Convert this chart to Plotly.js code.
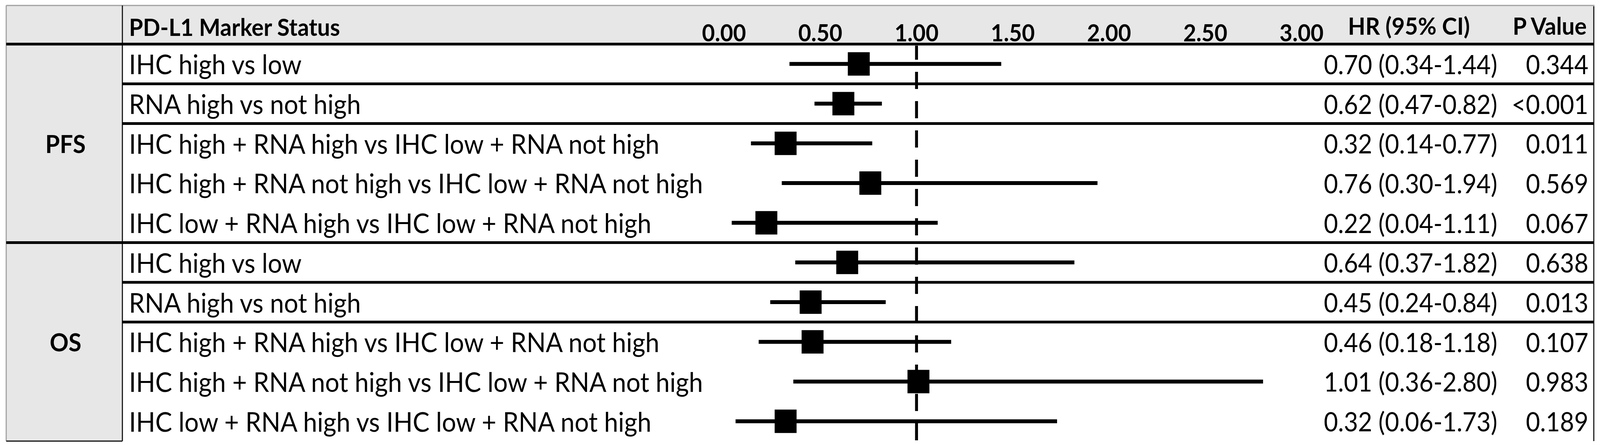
<!DOCTYPE html>
<html>
<head>
<meta charset="utf-8">
<script src="https://cdn.plot.ly/plotly-3.0.1.min.js"></script>
<style>
html,body{margin:0;padding:0;background:#fff;overflow:hidden;}
#chart{width:4380px;height:1140px;transform-origin:0 0;}
</style>
</head>
<body>
<div id="chart"></div>
<script>
// ---- data ----
const groups = ["PFS", "OS"];
const groupOf = ["PFS","PFS","PFS","PFS","PFS","OS","OS","OS","OS","OS"];
const comparisons = [
  "IHC high vs low",
  "RNA high vs not high",
  "IHC high + RNA high vs IHC low + RNA not high",
  "IHC high + RNA not high vs IHC low + RNA not high",
  "IHC low + RNA high vs IHC low + RNA not high",
  "IHC high vs low",
  "RNA high vs not high",
  "IHC high + RNA high vs IHC low + RNA not high",
  "IHC high + RNA not high vs IHC low + RNA not high",
  "IHC low + RNA high vs IHC low + RNA not high"
];
const hr      = [0.70, 0.62, 0.32, 0.76, 0.22, 0.64, 0.45, 0.46, 1.01, 0.32];
const ciLow   = [0.34, 0.47, 0.14, 0.30, 0.04, 0.37, 0.24, 0.18, 0.36, 0.06];
const ciHigh  = [1.44, 0.82, 0.77, 1.94, 1.11, 1.82, 0.84, 1.18, 2.80, 1.73];
const pValues = ["0.344", "<0.001", "0.011", "0.569", "0.067", "0.638", "0.013", "0.107", "0.983", "0.189"];
const tickVals = [0, 0.5, 1, 1.5, 2, 2.5, 3];
const tickText = ["0.00", "0.50", "1.00", "1.50", "2.00", "2.50", "3.00"];
const headerLabel = "PD-L1 Marker Status";
const hrHeader = "HR (95% CI)";
const pHeader = "P Value";
const refValue = 1;

// ---- layout helpers (pixel geometry of the table) ----
const W = 4380, H = 1140;
const X = px => px / W;
const Y = px => 1 - px / H;
const FONT = "Lato, 'Open Sans', sans-serif";
const LABEL = 69, VALUE = 67, HEAD = 62;
const tableL = 17, tableR = 4363, tableT = 14, headB = 113, tableB = 1130, groupR = 335;
const pxZero = 1982, pxPerUnit = 527, domL = 1960, domR = 3600;

const idx = comparisons.map((_, i) => i);

const trace = {
  type: "scatter",
  mode: "markers",
  x: hr,
  y: idx,
  marker: {symbol: "square", size: 60, color: "#000"},
  error_x: {
    type: "data", symmetric: false,
    array: hr.map((v, i) => ciHigh[i] - v),
    arrayminus: hr.map((v, i) => v - ciLow[i]),
    color: "#000", thickness: 10, width: 0
  },
  hoverinfo: "skip",
  showlegend: false,
  cliponaxis: false
};

const shapes = [];
shapes.push({type:"rect", xref:"paper", yref:"paper", x0:X(tableL), x1:X(tableR), y0:Y(headB), y1:Y(tableT), fillcolor:"#e7e7e7", line:{width:0}, layer:"below"});
shapes.push({type:"rect", xref:"paper", yref:"paper", x0:X(tableL), x1:X(groupR), y0:Y(tableB), y1:Y(headB), fillcolor:"#e7e7e7", line:{width:0}, layer:"below"});
shapes.push({type:"line", xref:"paper", yref:"paper", x0:X(tableL), x1:X(tableR+2), y0:Y(tableT), y1:Y(tableT), line:{color:"#a0a0a0", width:3}, layer:"below"});
shapes.push({type:"line", xref:"paper", yref:"paper", x0:X(tableL), x1:X(tableL), y0:Y(tableB), y1:Y(tableT), line:{color:"#a0a0a0", width:3}, layer:"below"});
shapes.push({type:"line", xref:"paper", yref:"paper", x0:X(tableR), x1:X(tableR), y0:Y(tableB), y1:Y(tableT+2), line:{color:"#111", width:3}, layer:"below"});
shapes.push({type:"line", xref:"paper", yref:"paper", x0:X(tableL), x1:X(groupR), y0:Y(tableB), y1:Y(tableB), line:{color:"#111", width:3}, layer:"below"});
shapes.push({type:"line", xref:"paper", yref:"paper", x0:X(groupR), x1:X(groupR), y0:Y(tableB), y1:Y(tableT), line:{color:"#111", width:3}, layer:"below"});
shapes.push({type:"line", xref:"paper", yref:"paper", x0:X(tableL), x1:X(tableR), y0:Y(headB), y1:Y(headB), line:{color:"#000", width:7}, layer:"below"});
const sepAfter = [0, 1, 4, 5, 6];
sepAfter.forEach(i => {
  const full = groupOf[i] !== groupOf[i + 1];
  shapes.push({type:"line", xref:"paper", yref:"y", x0:X(full ? tableL : groupR), x1:X(tableR), y0:i + 0.5, y1:i + 0.5, line:{color:"#000", width:7}, layer:"below"});
});
shapes.push({type:"line", xref:"x", yref:"paper", x0:refValue, x1:refValue, y0:Y(1128), y1:Y(117), line:{color:"#000", width:8, dash:"44px,31px"}, layer:"below"});

const annotations = [];
comparisons.forEach((c, i) => {
  annotations.push({xref:"paper", yref:"y", x:X(351), y:i, xanchor:"left", yanchor:"middle", text:c, showarrow:false, font:{family:FONT, size:LABEL, color:"#000"}});
  annotations.push({xref:"paper", yref:"y", x:X(3861), y:i, xanchor:"center", yanchor:"middle",
    text: hr[i].toFixed(2) + " (" + ciLow[i].toFixed(2) + "-" + ciHigh[i].toFixed(2) + ")",
    showarrow:false, font:{family:FONT, size:VALUE, color:"#000"}});
  annotations.push({xref:"paper", yref:"y", x:X(4350), y:i, xanchor:"right", yanchor:"middle", text:pValues[i], showarrow:false, font:{family:FONT, size:VALUE, color:"#000"}});
});
groups.forEach(g => {
  const rows = idx.filter(i => groupOf[i] === g);
  const mid = (rows[0] + rows[rows.length - 1]) / 2;
  annotations.push({xref:"paper", yref:"y", x:X(179), y:mid, xanchor:"center", yanchor:"middle", text:g, showarrow:false, font:{family:FONT, size:64, color:"#000", weight:700}});
});
annotations.push({xref:"paper", yref:"paper", x:X(351), y:Y(68), xanchor:"left", yanchor:"middle", text:headerLabel, showarrow:false, font:{family:FONT, size:HEAD, color:"#000", weight:700}});
annotations.push({xref:"paper", yref:"paper", x:X(3857), y:Y(65), xanchor:"center", yanchor:"middle", text:hrHeader, showarrow:false, font:{family:FONT, size:HEAD, color:"#000", weight:700}});
annotations.push({xref:"paper", yref:"paper", x:X(4346), y:Y(65), xanchor:"right", yanchor:"middle", text:pHeader, showarrow:false, font:{family:FONT, size:HEAD, color:"#000", weight:700}});

const layout = {
  width: W, height: H,
  margin: {l:0, r:0, t:0, b:0, pad:0},
  paper_bgcolor: "#fff",
  plot_bgcolor: "rgba(0,0,0,0)",
  showlegend: false,
  xaxis: {
    domain: [X(domL), X(domR)],
    range: [(domL - pxZero) / pxPerUnit, (domR - pxZero) / pxPerUnit],
    side: "top",
    tickvals: tickVals, ticktext: tickText,
    tickfont: {family: FONT, size: 61, color: "#000", weight: 700},
    ticks: "", showgrid: false, zeroline: false, showline: false,
    ticklabelstandoff: -6,
    fixedrange: true
  },
  yaxis: {
    domain: [Y(tableB), Y(headB)],
    range: [comparisons.length - 0.5, -0.5],
    visible: false, showgrid: false, zeroline: false, fixedrange: true
  },
  shapes: shapes,
  annotations: annotations
};

// fit the fixed 4380x1140 drawing to the actual viewport
const sx = window.innerWidth / W, sy = window.innerHeight / H;
document.getElementById("chart").style.transform = "scale(" + sx + "," + sy + ")";

Plotly.newPlot("chart", [trace], layout, {displayModeBar: false, staticPlot: true});
</script>
</body>
</html>
